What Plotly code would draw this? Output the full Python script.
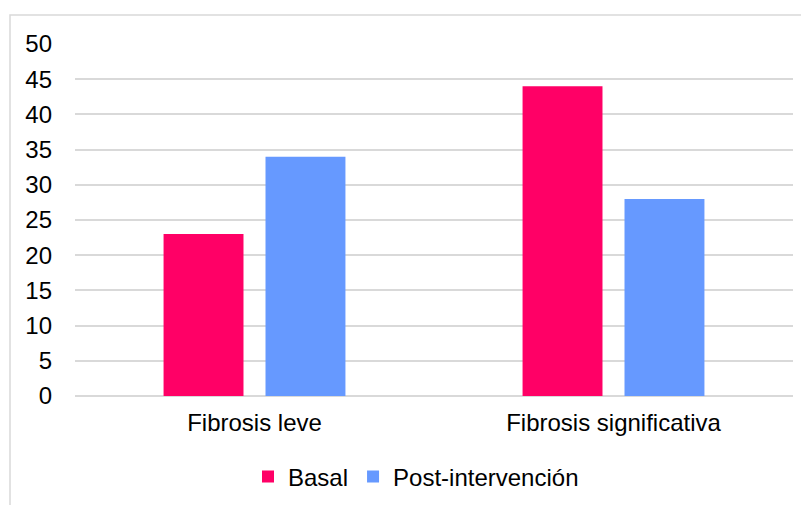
import plotly.graph_objects as go

categories = ["Fibrosis leve", "Fibrosis significativa"]
basal = [23, 44]
post = [34, 28]
tick_vals = [0, 5, 10, 15, 20, 25, 30, 35, 40, 45, 50]

fig = go.Figure()
fig.add_bar(name="Basal", x=categories, y=basal, marker_color="#FF0066", marker_line_width=0)
fig.add_bar(name="Post-intervención", x=categories, y=post, marker_color="#6699FF", marker_line_width=0)

W, H = 809, 505
OFF = 8  # page body margin offset
# target screen coords of plot area
sl, sr, st, sb = 75, 793, 44, 396
l, t = sl - OFF, st - OFF
r = W - (sr - OFF)
b = H - (sb - OFF)
pw, ph = W - l - r, H - t - b

def px_x(s):
    return (s - OFF - l) / pw

def px_y(s):
    return (H - b - (s - OFF)) / ph

fig.update_layout(
    width=W, height=H,
    margin=dict(l=l, r=r, t=t, b=b, autoexpand=False),
    paper_bgcolor="white", plot_bgcolor="white",
    barmode="group", bargap=0.432, bargroupgap=0.216,
    font=dict(family="Liberation Sans, Arial", size=24, color="#000000"),
    showlegend=True,
    legend=dict(orientation="h", x=px_x(416), xanchor="center", y=px_y(477), yanchor="middle",
                font=dict(size=24), itemwidth=30, traceorder="normal"),
    xaxis=dict(showgrid=False, showline=False, ticks="", tickfont=dict(size=24),
               ticklabelstandoff=10, automargin=False),
    yaxis=dict(range=[0, 50], tickvals=tick_vals, showgrid=True, gridcolor="#D9D9D9",
               gridwidth=1.5, zeroline=True, zerolinecolor="#D9D9D9", zerolinewidth=1.5,
               ticks="", ticklabelstandoff=22, tickfont=dict(size=24), showline=False,
               automargin=False),
    shapes=[dict(type="rect", xref="paper", yref="paper",
                 x0=px_x(10), x1=px_x(830), y0=px_y(520), y1=px_y(15),
                 line=dict(color="#D9D9D9", width=1.5), fillcolor="rgba(0,0,0,0)", layer="below")],
)

fig.write_html("out.html")
